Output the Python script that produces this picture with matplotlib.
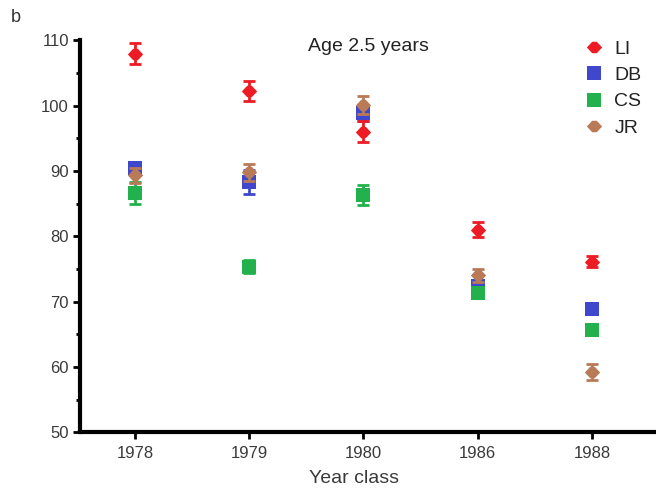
import numpy as np
import matplotlib.pyplot as plt

plt.rcParams['font.family'] = ['Liberation Sans', 'DejaVu Sans']

# === data ===
years = ['1978', '1979', '1980', '1986', '1988']
li = [107.9, 102.2, 96.0, 81.0, 76.1]
li_err = [1.6, 1.5, 1.6, 1.2, 0.8]
db = [90.4, 88.3, 98.8, 72.3, 68.9]
db_err = [1.0, 1.8, 1.2, 0.8, 0.7]
cs = [86.6, 75.3, 86.3, 71.3, 65.6]
cs_err = [1.7, 1.0, 1.5, 0.8, 0.6]
jr = [89.3, 89.8, 100.1, 74.0, 59.2]
jr_err = [1.2, 1.3, 1.4, 1.0, 1.2]

c_li = '#ED1C24'
c_db = '#3F48CC'
c_cs = '#22B14C'
c_jr = '#B97A57'

# diamond with blunt top/bottom, as in the figure
gem = [(-1, 0), (-0.3, 0.75), (0.3, 0.75), (1, 0), (0.3, -0.75), (-0.3, -0.75), (-1, 0)]

x = np.arange(len(years))

fig = plt.figure(figsize=(6.56, 4.9), dpi=100)
ax = fig.add_axes([0.122, 0.118, 0.878, 0.80])

def series(vals, err, color, marker, ms, label, z):
    ax.errorbar(x, vals, yerr=err, fmt='none', ecolor=color,
                elinewidth=2, capsize=4.3, capthick=2, zorder=z)
    ax.plot(x, vals, linestyle='none', marker=marker, color=color,
            markersize=ms, markeredgewidth=0, label=label, zorder=z)

series(db, db_err, c_db, 's', 9.5, 'DB', 3)
series(cs, cs_err, c_cs, 's', 9.5, 'CS', 4)
series(jr, jr_err, c_jr, gem, 11, 'JR', 5)
series(li, li_err, c_li, gem, 11, 'LI', 6)

ax.set_xlim(-0.48, 4.56)
ax.set_ylim(50, 110)
ax.set_xticks(x)
ax.set_xticklabels(years)
ax.set_yticks(np.arange(50, 111, 10))
ax.set_yticks(np.arange(55, 110, 10), minor=True)

for s in ['top', 'right']:
    ax.spines[s].set_visible(False)
ax.spines['left'].set_linewidth(3)
ax.spines['bottom'].set_linewidth(3)
ax.tick_params(axis='both', which='major', direction='out', length=5, width=2,
               labelsize=12, labelcolor='#3a3a3a')
ax.tick_params(axis='y', which='minor', direction='out', length=3, width=2)
ax.tick_params(axis='x', pad=5)
ax.tick_params(axis='y', pad=3)

ax.set_xlabel('Year class', fontsize=14, color='#3a3a3a', va='center')
ax.xaxis.set_label_coords(0.476, -0.117)

ax.text(0.5, 1.005, 'Age 2.5 years', transform=ax.transAxes, ha='center', va='top',
        fontsize=14, color='#222222')
fig.text(0.016, 0.982, 'b', ha='left', va='top', fontsize=13, color='#333333')

# legend order LI, DB, CS, JR
h, l = ax.get_legend_handles_labels()
order = [l.index(n) for n in ['LI', 'DB', 'CS', 'JR']]
leg = ax.legend([h[i] for i in order], [l[i] for i in order], loc='upper right',
                bbox_to_anchor=(1.005, 1.045), frameon=False, fontsize=14,
                handletextpad=0.3, labelspacing=0.45, handlelength=1.5)
for t in leg.get_texts():
    t.set_color('#222222')

fig.savefig('out.png', dpi=100)
